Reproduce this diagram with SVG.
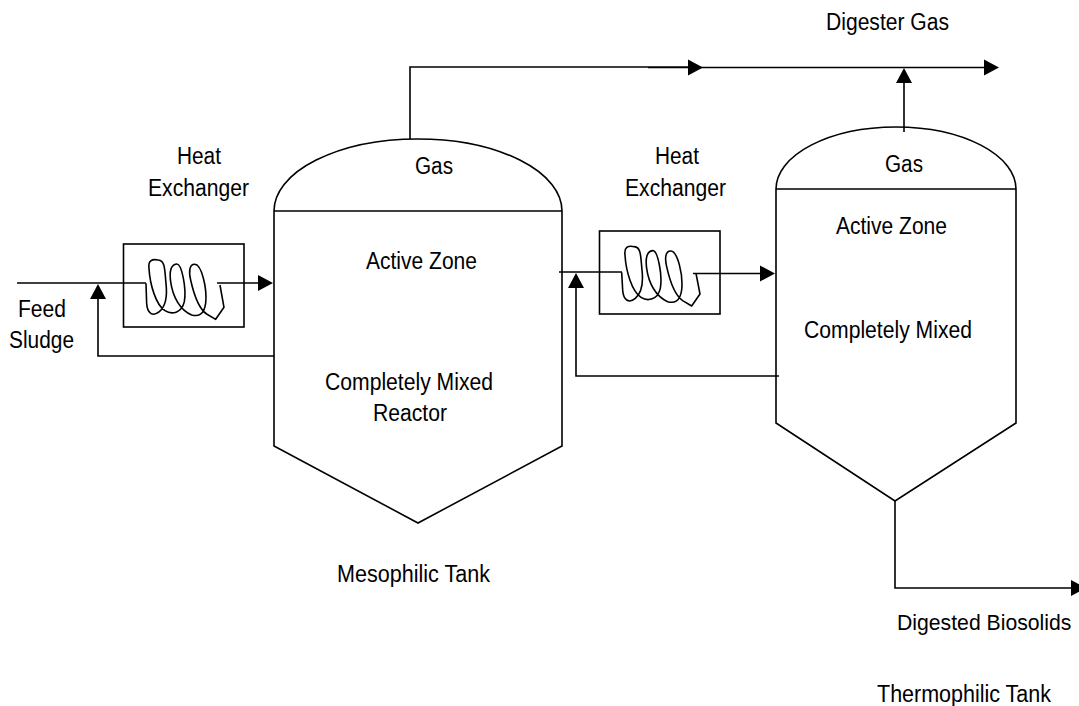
<svg xmlns="http://www.w3.org/2000/svg" width="1079" height="706" viewBox="0 0 1079 706">
<defs>
<style>
text{font-family:"Liberation Sans",Arial,sans-serif;font-size:23px;fill:#000;text-anchor:start}
.l{fill:none;stroke:#000;stroke-width:1.6}
.coil{fill:none;stroke:#000;stroke-width:4.8;stroke-linejoin:round}
.a{fill:#000;stroke:none}
</style>
</defs>
<rect width="1079" height="706" fill="#fff"/>
<g id="mesophilic-tank"><path class="l" d="M274 211A144 72 0 0 1 562 211V446L418 523L274 446Z M274 211H562"/>
<text x="415" y="174" textLength="38" lengthAdjust="spacingAndGlyphs">Gas</text><text x="366" y="269" textLength="111" lengthAdjust="spacingAndGlyphs">Active Zone</text><text x="325" y="390" textLength="168" lengthAdjust="spacingAndGlyphs">Completely Mixed</text><text x="373" y="421" textLength="74" lengthAdjust="spacingAndGlyphs">Reactor</text><text x="337" y="582" textLength="153" lengthAdjust="spacingAndGlyphs">Mesophilic Tank</text></g>
<g id="thermophilic-tank"><path class="l" d="M776 189A120 62 0 0 1 1016 189V423L895 501L776 423Z M776 189H1016"/>
<text x="885" y="172" textLength="38" lengthAdjust="spacingAndGlyphs">Gas</text><text x="836" y="234" textLength="111" lengthAdjust="spacingAndGlyphs">Active Zone</text><text x="804" y="338" textLength="168" lengthAdjust="spacingAndGlyphs">Completely Mixed</text><text x="877" y="702" textLength="174" lengthAdjust="spacingAndGlyphs">Thermophilic Tank</text></g>
<g id="heat-exchanger-1"><rect class="l" x="123.500" y="244" width="120.500" height="83"/>
<path class="coil" transform="translate(0 220) scale(.3333)" d="M438 190L440 250C442 280 458 292 478 275C498 258 502 225 498 190C494 150 496 122 475 120C455 116 444 122 447 145C450 195 468 255 495 272C515 285 545 280 553 245C560 205 545 130 530 132C512 134 508 155 512 185C518 230 540 270 575 285C595 290 612 285 617 250C622 205 605 135 585 133C568 132 566 155 572 180C582 225 595 265 620 282L647 298L672 262L660 195"/></g>
<g id="heat-exchanger-2"><rect class="l" x="599.500" y="231" width="120.500" height="83"/>
<path class="coil" transform="translate(550 220) scale(.3333)" d="M215 157L218 210C220 240 236 252 256 235C276 218 280 185 276 150C272 110 274 82 253 80C233 76 222 82 225 105C228 155 246 215 273 232C293 245 323 240 331 205C338 165 323 90 308 92C290 94 286 115 290 145C296 190 318 230 353 245C373 250 390 245 395 210C400 165 383 95 363 93C346 92 344 115 350 140C360 185 373 225 398 242L425 258L450 222L438 160"/></g>
<g id="connectors">
<path class="l" d="M17 283H146M98 296V356H274M217 283H260M559 272H622M576 285V376H779M693 273.500H762M410 139V67H692M904 132V80M895 501V588H1073M648 67.500H986"/>
<path class="a" d="M90 299L98 284L106 299ZM258 275L273 283L258 291ZM568 288L576 273L584 288ZM760 265.500L775 273.500L760 281.500ZM688 59.500L703 67.500L688 75.500ZM896 83L904 68L912 83ZM984 59.500L999 67.500L984 75.500ZM1071 580L1086 588L1071 596Z"/>
</g>
<g id="labels"><text x="177" y="164" textLength="44" lengthAdjust="spacingAndGlyphs">Heat</text><text x="148" y="196" textLength="101" lengthAdjust="spacingAndGlyphs">Exchanger</text><text x="655" y="164" textLength="44" lengthAdjust="spacingAndGlyphs">Heat</text><text x="625" y="196" textLength="101" lengthAdjust="spacingAndGlyphs">Exchanger</text><text x="18" y="317" textLength="48" lengthAdjust="spacingAndGlyphs">Feed</text><text x="9" y="348" textLength="65" lengthAdjust="spacingAndGlyphs">Sludge</text><text x="826" y="30" textLength="123" lengthAdjust="spacingAndGlyphs">Digester Gas</text><text transform="translate(897 630) scale(.9226 1)">Digested Biosolids</text></g>
</svg>
